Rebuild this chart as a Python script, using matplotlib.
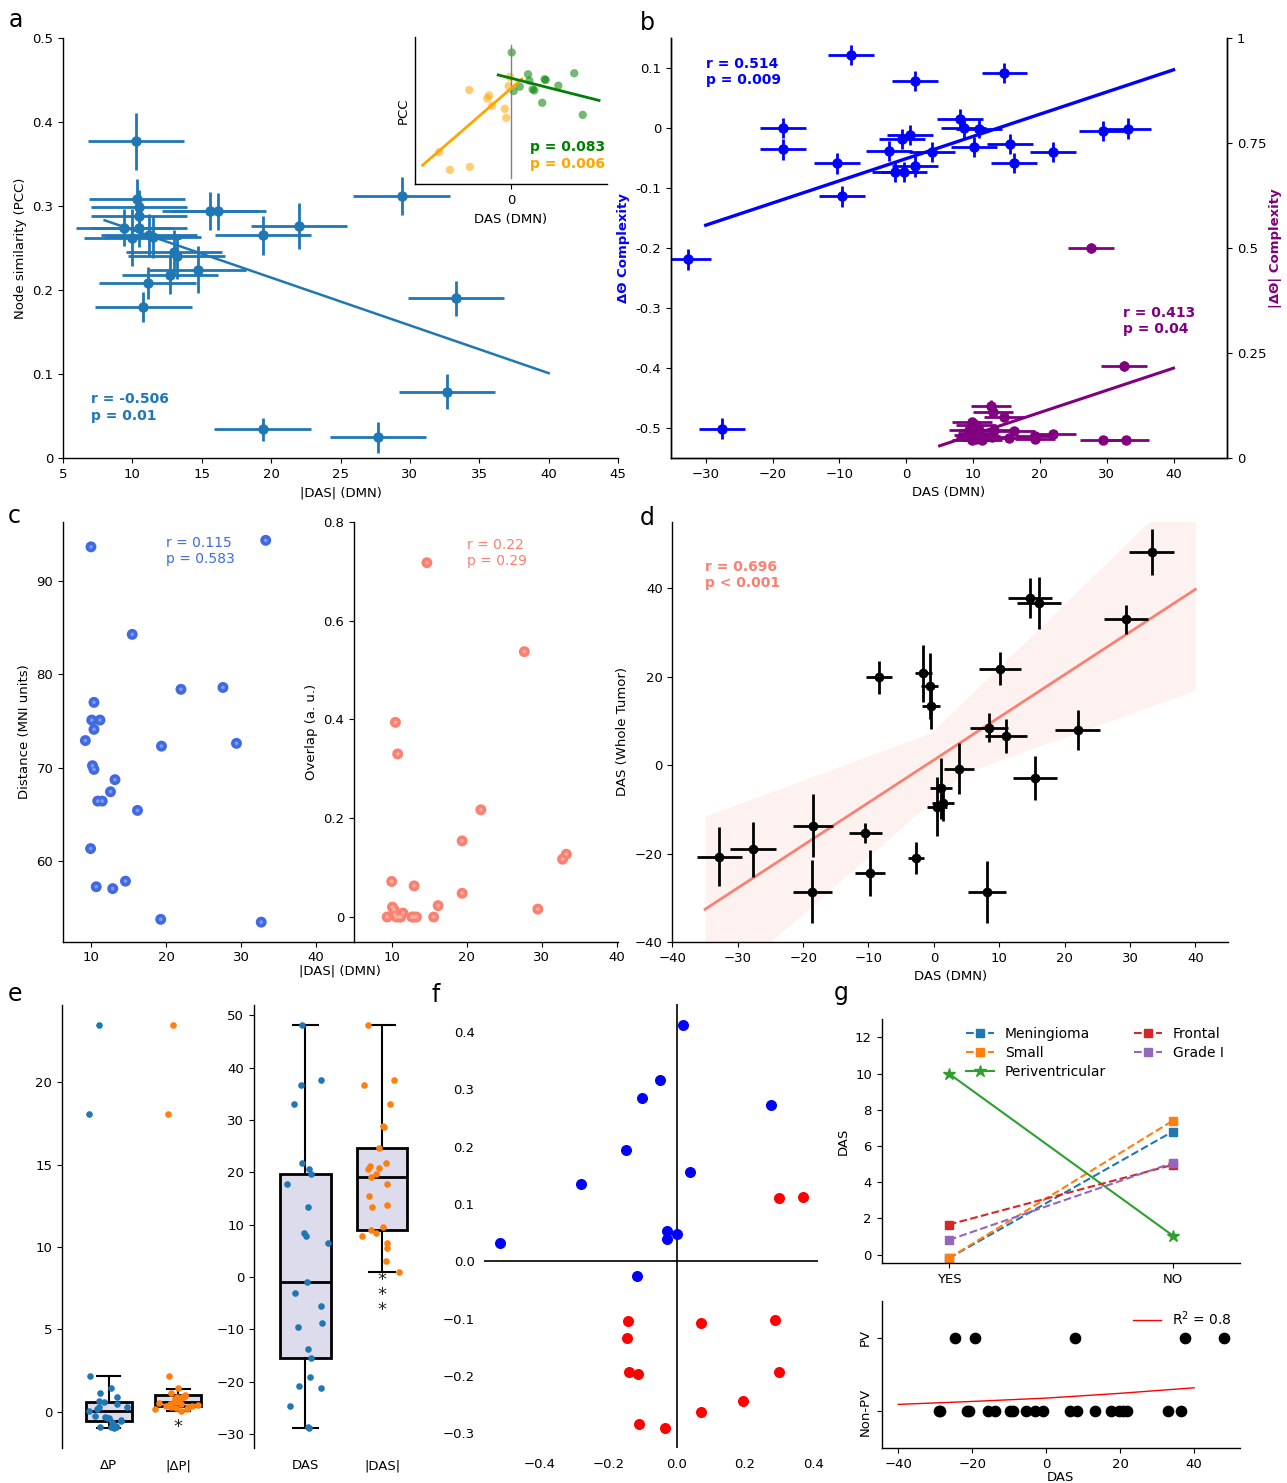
import numpy as np
import matplotlib
matplotlib.use('Agg')
import matplotlib.pyplot as plt
from matplotlib.ticker import FixedLocator

plt.rcParams['font.family'] = ['DejaVu Sans']
plt.rcParams['font.size'] = 9.5
plt.rcParams['axes.linewidth'] = 1.0

W, H = 1287, 1483


def box(l, r, t, b):
    return [l / W, 1 - b / H, (r - l) / W, (b - t) / H]


def clean(ax, right=False):
    ax.spines['top'].set_visible(False)
    if not right:
        ax.spines['right'].set_visible(False)

# ---------------- data: panel a ----------------
a_das = [10.25, 10.3, 10.5, 10.5, 9.43, 10.5, 10.0, 11.2, 11.5, 15.6, 16.2, 19.4,
         22.0, 29.4, 13.0, 13.2, 12.7, 14.7, 11.1, 10.8, 33.3, 32.7, 19.4, 27.7]
a_pcc = [0.377, 0.308, 0.299, 0.288, 0.274, 0.274, 0.262, 0.265, 0.263, 0.294, 0.294, 0.265,
         0.276, 0.312, 0.245, 0.240, 0.218, 0.224, 0.208, 0.180, 0.190, 0.079, 0.034, 0.0245]
a_xerr = [3.48, 3.46, 3.45, 3.45, 3.48, 3.45, 3.48, 3.48, 3.45, 3.47, 3.45, 3.45,
          3.48, 3.48, 3.48, 3.48, 3.48, 3.50, 3.48, 3.48, 3.45, 3.46, 3.50, 3.48]
a_yerr = [0.034, 0.024, 0.020, 0.015, 0.022, 0.023, 0.034, 0.025, 0.025, 0.023, 0.022, 0.023,
          0.027, 0.023, 0.026, 0.027, 0.023, 0.028, 0.019, 0.018, 0.021, 0.021, 0.014, 0.018]
a_fit_x = [8, 40]
a_fit_y = [0.283, 0.101]

inset_neg_das = [-0.4, -1.0, -19.1, -10.0, -10.8, -8.6, -2.8, -2.1, -32.9, -28.0, -18.8]
inset_neg_pcc = [0.300, 0.273, 0.261, 0.245, 0.236, 0.214, 0.205, 0.178, 0.076, 0.023, 0.032]
inset_pos_das = [0.4, 7.9, 8.5, 15.5, 16.0, 29.1, 21.8, 4.1, 1.3, 10.0, 10.8, 14.4, 33.0]
inset_pos_pcc = [0.373, 0.308, 0.289, 0.293, 0.291, 0.311, 0.274, 0.271, 0.258, 0.263, 0.260, 0.223, 0.187]
inset_neg_fit_x = [-40.5, 5.1]
inset_neg_fit_y = [0.037, 0.294]
inset_pos_fit_x = [-5.8, 40.5]
inset_pos_fit_y = [0.306, 0.230]

# ---------------- data: panel b ----------------
b_das = [-8.3, 1.25, 14.7, -18.4, -18.4, 8.1, 8.6, 10.9, 29.4, 33.25, 0.5, -0.6, -2.6,
         3.9, 10.1, 15.5, 21.9, 16.1, -10.4, 1.25, -1.7, -0.4, -9.6, -32.6, -27.6]
b_dtheta = [0.122, 0.078, 0.092, 0.0, -0.0355, 0.0155, 0.0, -0.001, -0.005, -0.001, -0.012,
            -0.018, -0.038, -0.040, -0.032, -0.027, -0.040, -0.058, -0.059, -0.064, -0.073,
            -0.073, -0.114, -0.219, -0.501]
b_xerr = [3.44, 3.44, 3.40, 3.44, 3.44, 3.44, 3.40, 3.44, 3.50, 3.44, 3.44, 3.44, 3.44,
          3.44, 3.44, 3.44, 3.44, 3.44, 3.44, 3.44, 3.44, 3.44, 3.44, 3.44, 3.44]
b_yerr = [0.017, 0.017, 0.017, 0.017, 0.017, 0.016, 0.016, 0.016, 0.017, 0.017, 0.017,
          0.017, 0.017, 0.017, 0.017, 0.017, 0.017, 0.017, 0.017, 0.017, 0.017, 0.017,
          0.017, 0.017, 0.017]
b_fit_x = [-30, 40]
b_fit_y = [-0.162, 0.097]

b_absdas = [27.7, 32.6, 12.7, 14.6, 9.9, 10.4, 9.4, 10.9, 13.2, 16.2, 19.3, 21.9, 19.3,
            15.4, 9.9, 11.4, 29.4, 32.9, 10.2, 10.5, 10.8, 11.1, 13.0, 10.4, 12.9]
b_abstheta = [0.500, 0.219, 0.124, 0.098, 0.086, 0.079, 0.067, 0.067, 0.067, 0.065, 0.052,
              0.057, 0.045, 0.047, 0.043, 0.043, 0.043, 0.043, 0.055, 0.050, 0.060, 0.052,
              0.110, 0.045, 0.050]
b_abs_xerr = [3.44, 3.44, 3.0, 3.0, 3.0, 3.0, 3.0, 3.0, 3.0, 3.0, 3.0, 3.44, 3.0,
              3.0, 3.0, 3.0, 3.44, 3.44, 3.0, 3.0, 3.0, 3.0, 3.0, 3.0, 3.0]
b_abs_yerr = [0.013, 0.013, 0.013, 0.010, 0.010, 0.010, 0.010, 0.010, 0.010, 0.010, 0.008,
              0.008, 0.008, 0.008, 0.008, 0.008, 0.008, 0.008, 0.008, 0.008, 0.008, 0.008,
              0.010, 0.008, 0.008]
b_pfit_x = [5, 40]
b_pfit_y = [0.029, 0.214]

# ---------------- data: panel c ----------------
c_das_dist = [10.0, 33.3, 15.5, 22.0, 27.6, 10.4, 10.1, 11.2, 10.4, 9.25, 19.4, 29.4, 10.2,
              10.4, 13.2, 12.6, 10.9, 11.5, 16.2, 9.95, 10.7, 12.9, 14.6, 19.3, 32.7]
c_distance = [93.7, 94.4, 84.3, 78.4, 78.6, 77.0, 75.1, 75.1, 74.1, 72.9, 72.3, 72.6, 70.2,
              69.8, 68.7, 67.4, 66.4, 66.4, 65.4, 61.3, 57.2, 57.0, 57.8, 53.7, 53.4]
c_das_ovl = [14.7, 27.7, 10.5, 10.8, 21.9, 19.4, 33.3, 32.8, 10.0, 13.0, 19.4, 16.2, 29.5,
             10.3, 11.5, 9.4, 10.6, 11.2, 12.7, 13.3, 15.6, 10.1, 11.0, 10.4, 12.9]
c_overlap = [0.717, 0.537, 0.394, 0.330, 0.217, 0.154, 0.127, 0.117, 0.072, 0.063, 0.048,
             0.023, 0.016, 0.015, 0.008, 0.0, 0.0, 0.0, 0.0, 0.0, 0.0, 0.02, 0.0, 0.005, 0.0]

# ---------------- data: panel d ----------------
d_das_dmn = [33.3, 14.7, 16.1, 29.4, 10.1, -8.35, -1.6, -0.6, -0.4, 8.5, 11.0, 22.0, 3.9,
             15.5, 1.1, 1.4, 0.45, -18.5, -10.5, -27.7, -32.8, -2.7, -9.7, -18.6, 8.1]
d_das_tumor = [48.1, 37.7, 36.6, 32.9, 21.8, 19.8, 20.7, 17.8, 13.4, 8.4, 6.5, 7.9, -0.8,
               -3.0, -5.3, -8.6, -9.4, -13.7, -15.4, -19.0, -20.7, -21.1, -24.4, -28.6, -28.7]
d_xerr = [3.4, 3.4, 3.4, 3.4, 3.2, 2.0, 1.3, 1.3, 1.4, 2.9, 3.2, 3.4, 2.3,
          3.4, 1.7, 1.7, 1.5, 3.0, 2.5, 3.5, 3.4, 1.2, 2.3, 3.0, 2.9]
d_yerr = [5.2, 4.5, 5.8, 3.3, 3.8, 3.8, 6.5, 7.5, 5.2, 3.3, 3.8, 4.5, 5.8,
          5.0, 7.0, 4.0, 6.6, 7.2, 2.3, 6.2, 6.6, 3.6, 5.2, 7.1, 7.0]
d_fit_x = [-35, 40]
d_fit_y = [-32.6, 39.7]
d_band_x = [-35, -25, -0.4, 4.5, 32.9, 40]
d_band_lo = [-52.9, -40.0, -8.3, -1.9, 13.1, 16.9]
d_band_hi = [-11.5, -6.1, 7.3, 14.3, 55.0, 65.2]

# ---------------- data: panel e ----------------
e_dp = [23.5, 18.06, 2.19, 1.46, 1.17, 0.87, 0.63, 0.57, 0.26, 0.30, 0.16, -0.24, -0.34,
        -0.36, -0.47, -0.55, -0.91, -0.91, -0.97, -0.91, -0.40, 0.05, -0.85, -0.60, 0.45]
e_dp_jit = [-0.14, -0.28, -0.27, 0.03, -0.12, 0.12, -0.14, -0.07, 0.27, -0.14, -0.17, -0.19,
            -0.05, 0.0, 0.18, 0.18, -0.13, 0.03, 0.07, 0.11, -0.02, -0.28, 0.10, 0.05, 0.12]
e_adp = [23.5, 18.06, 2.19, 1.46, 1.17, 1.0, 0.95, 0.91, 0.87, 0.80, 0.63, 0.57, 0.55, 0.47,
         0.40, 0.36, 0.34, 0.30, 0.26, 0.24, 0.16, 0.14, 0.06, 0.45, 0.91]
e_adp_jit = [-0.08, -0.15, -0.13, -0.01, -0.10, 0.10, 0.09, -0.02, 0.06, -0.05, 0.01, -0.06,
             -0.27, 0.04, 0.29, 0.20, -0.18, -0.10, 0.14, -0.03, 0.12, -0.33, 0.04, -0.12, 0.07]
e_das = [48.2, 37.7, 36.7, 33.0, 21.8, 20.7, 19.7, 17.7, 13.4, 8.35, 7.9, 6.5, -0.96,
         -3.1, -5.5, -8.8, -9.5, -13.7, -15.5, -19.1, -20.8, -21.2, -24.6, -28.6, -28.8]
e_das_jit = [-0.04, 0.20, -0.06, -0.15, -0.05, 0.05, 0.08, -0.24, 0.03, -0.02, 0.01, 0.29,
             0.02, -0.14, 0.20, 0.22, -0.10, 0.03, 0.07, 0.06, -0.08, 0.21, -0.20, 0.04, 0.05]
e_adas = [48.2, 37.7, 36.7, 33.0, 28.8, 28.7, 24.6, 21.8, 21.3, 20.7, 20.8, 19.7, 19.1, 17.7,
          15.5, 13.4, 13.7, 9.6, 8.9, 8.35, 7.9, 6.5, 5.5, 3.1, 0.9]
e_adas_jit = [-0.18, 0.16, -0.24, 0.11, 0.01, 0.03, -0.04, 0.05, -0.16, -0.18, -0.04, -0.08,
              -0.15, 0.07, -0.17, -0.13, 0.07, 0.01, -0.14, -0.08, -0.26, 0.07, 0.07, 0.05, 0.22]
e_box_left = [dict(label='ΔP', med=0.05, q1=-0.55, q3=0.61, whislo=-0.97, whishi=2.2),
              dict(label='|ΔP|', med=0.6, q1=0.36, q3=1.01, whislo=0.05, whishi=1.4)]
e_box_right = [dict(label='DAS', med=-0.96, q1=-15.5, q3=19.6, whislo=-28.8, whishi=48.2),
               dict(label='|DAS|', med=19.1, q1=8.9, q3=24.6, whislo=0.9, whishi=48.2)]

# ---------------- data: panel f ----------------
f_blue_x = [0.020, -0.050, -0.100, 0.277, -0.147, 0.038, -0.280, -0.027, 0.001, -0.028, -0.518, -0.115]
f_blue_y = [0.412, 0.316, 0.285, 0.273, 0.195, 0.155, 0.134, 0.053, 0.048, 0.038, 0.032, -0.025]
f_red_x = [0.300, 0.369, -0.142, 0.070, 0.289, -0.144, -0.140, -0.112, 0.299, 0.195, 0.070, -0.109, -0.033]
f_red_y = [0.111, 0.112, -0.105, -0.107, -0.103, -0.134, -0.194, -0.196, -0.193, -0.244, -0.263, -0.284, -0.291]

# ---------------- data: panel g ----------------
g_groups = ['YES', 'NO']
g_meningioma = [-0.2, 6.8]
g_small = [-0.2, 7.4]
g_periventricular = [10.0, 1.05]
g_frontal = [1.66, 4.96]
g_grade1 = [0.81, 5.07]
g_pv_das = [-24.7, -19.3, 7.8, 37.5, 48.1]
g_nonpv_das = [-28.9, -28.7, -21.5, -20.8, -15.7, -13.9, -9.8, -8.9, -5.5, -3.0, -1.0, 6.3,
               8.4, 13.3, 17.5, 19.8, 20.7, 21.8, 32.9, 36.5]
g_curve_x = [-40, -20, 0, 20, 40]
g_curve_y = [0.095, 0.135, 0.18, 0.245, 0.32]

BLUE_A = '#1f77b4'

fig = plt.figure(figsize=(W / 100, H / 100), dpi=100)

# ================= panel a =================
ax = fig.add_axes(box(63, 618, 38, 458))
ax.errorbar(a_das, a_pcc, xerr=a_xerr, yerr=a_yerr, fmt='o', color=BLUE_A, ms=6.5,
            elinewidth=2, capsize=0)
ax.plot(a_fit_x, a_fit_y, color=BLUE_A, lw=1.8)
ax.set_xlim(5, 45)
ax.set_ylim(0, 0.5)
ax.set_xticks([5, 10, 15, 20, 25, 30, 35, 40, 45])
ax.set_yticks([0, 0.1, 0.2, 0.3, 0.4, 0.5])
ax.set_yticklabels(['0', '0.1', '0.2', '0.3', '0.4', '0.5'])
ax.set_xlabel('|DAS| (DMN)')
ax.set_ylabel('Node similarity (PCC)')
ax.text(7.0, 0.078, 'r = -0.506\np = 0.01', color=BLUE_A, fontweight='bold', fontsize=10,
        va='top', ha='left')
clean(ax)

ai = fig.add_axes(box(415, 606.7, 36.7, 184.3))
ai.plot([0, 0], [0.0, 0.395], color='gray', lw=1)
ai.scatter(inset_neg_das, inset_neg_pcc, s=36, color='orange', alpha=0.55, edgecolors='none')
ai.scatter(inset_pos_das, inset_pos_pcc, s=36, color='green', alpha=0.55, edgecolors='none')
ai.plot(inset_neg_fit_x, inset_neg_fit_y, color='orange', lw=2)
ai.plot(inset_pos_fit_x, inset_pos_fit_y, color='green', lw=2)
ai.set_xlim(-44, 44)
ai.set_ylim(-0.02, 0.42)
ai.set_xticks([0])
ai.set_yticks([])
ai.set_xlabel('DAS (DMN)')
ai.set_ylabel('PCC')
ai.text(0.99, 0.25, 'p = 0.083', color='green', fontweight='bold', fontsize=10,
        transform=ai.transAxes, ha='right', va='center')
ai.text(0.99, 0.135, 'p = 0.006', color='orange', fontweight='bold', fontsize=10,
        transform=ai.transAxes, ha='right', va='center')
clean(ai)

# ================= panel b =================
bx = fig.add_axes(box(671, 1227, 38, 458))
bx.errorbar(b_das, b_dtheta, xerr=b_xerr, yerr=b_yerr, fmt='o', color='blue', ms=6.5,
            elinewidth=2, capsize=0)
bx.plot(b_fit_x, b_fit_y, color='blue', lw=2.4)
bx.set_xlim(-35.2, 48)
bx.set_ylim(-0.55, 0.15)
bx.set_xticks([-30, -20, -10, 0, 10, 20, 30, 40])
bx.set_yticks([0.1, 0, -0.1, -0.2, -0.3, -0.4, -0.5])
bx.set_yticklabels(['0.1', '0', '-0.1', '-0.2', '-0.3', '-0.4', '-0.5'])
bx.set_xlabel('DAS (DMN)')
bx.set_ylabel('ΔΘ Complexity', color='blue', fontweight='bold')
bx.text(-30, 0.118, 'r = 0.514\np = 0.009', color='blue', fontweight='bold', fontsize=10,
        va='top', ha='left')
bx.spines['top'].set_visible(False)
bx2 = bx.twinx()
bx2.errorbar(b_absdas, b_abstheta, xerr=b_abs_xerr, yerr=b_abs_yerr, fmt='o', color='purple',
             ms=6.5, elinewidth=2, capsize=0)
bx2.plot(b_pfit_x, b_pfit_y, color='purple', lw=2.2)
bx2.set_ylim(0, 1)
bx2.set_yticks([0, 0.25, 0.5, 0.75, 1])
bx2.set_yticklabels(['0', '0.25', '0.5', '0.75', '1'])
bx2.set_ylabel('|ΔΘ| Complexity', color='purple', fontweight='bold', labelpad=2)
bx2.text(32.5, 0.362, 'r = 0.413\np = 0.04', color='purple', fontweight='bold', fontsize=10,
         va='top', ha='left')
bx2.spines['top'].set_visible(False)

# ================= panel c =================
cl = fig.add_axes(box(63, 354, 521.7, 941.7))
cl.scatter(c_das_dist, c_distance, s=62, color='royalblue', edgecolors='none', zorder=3)
cl.scatter(c_das_dist, c_distance, s=7, color='#7d9bf0', edgecolors='none', zorder=4)
cl.set_xlim(6.27, 45.07)
cl.set_ylim(51.3, 96.4)
cl.set_xticks([10, 20, 30, 40])
cl.set_yticks([60, 70, 80, 90])
cl.set_ylabel('Distance (MNI units)')
cl.text(20.0, 94.9, 'r = 0.115\np = 0.583', color='royalblue', fontsize=10, va='top', ha='left')
clean(cl)

cr = fig.add_axes(box(354, 618, 521.7, 941.7))
cr.scatter(c_das_ovl, c_overlap, s=62, color='salmon', edgecolors='none', zorder=3)
cr.scatter(c_das_ovl, c_overlap, s=7, color='#fcae9f', edgecolors='none', zorder=4)
cr.set_xlim(4.97, 40.2)
cr.set_ylim(-0.05, 0.8)
cr.set_xticks([10, 20, 30, 40])
cr.set_yticks([0, 0.2, 0.4, 0.6, 0.8])
cr.set_yticklabels(['0', '0.2', '0.4', '0.6', '0.8'])
cr.set_ylabel('Overlap (a. u.)')
cr.text(20.0, 0.768, 'r = 0.22\np = 0.29', color='salmon', fontsize=10, va='top', ha='left')
clean(cr)
fig.text(340 / W, 1 - 971 / H, '|DAS| (DMN)', ha='center', va='center', fontsize=9.5)

# ================= panel d =================
dx = fig.add_axes(box(672.4, 1228, 521.7, 942))
dx.fill_between(d_band_x, d_band_lo, d_band_hi, color='salmon', alpha=0.1, lw=0)
dx.plot(d_fit_x, d_fit_y, color='salmon', lw=2)
dx.errorbar(d_das_dmn, d_das_tumor, xerr=d_xerr, yerr=d_yerr, fmt='o', color='black', ms=6,
            elinewidth=2, capsize=0)
dx.set_xlim(-40, 45)
dx.set_ylim(-40, 55)
dx.set_xticks([-40, -30, -20, -10, 0, 10, 20, 30, 40])
dx.set_yticks([-40, -20, 0, 20, 40])
dx.set_xlabel('DAS (DMN)')
dx.set_ylabel('DAS (Whole Tumor)')
dx.text(-35, 46.3, 'r = 0.696\np < 0.001', color='salmon', fontweight='bold', fontsize=10,
        va='top', ha='left')
clean(dx)

# ================= panel e =================
BOXFACE = '#dcdcec'
el = fig.add_axes(box(62, 220, 1005, 1448))
el.bxp(e_box_left, positions=[0, 1], widths=0.66, patch_artist=True, showfliers=False,
       boxprops=dict(facecolor=BOXFACE, edgecolor='black', lw=2),
       medianprops=dict(color='black', lw=2), whiskerprops=dict(color='black', lw=1.5),
       capprops=dict(color='black', lw=1.5), capwidths=0.33)
el.scatter(np.add(0, e_dp_jit), e_dp, s=14, color='#1f77b4', zorder=3)
el.scatter(np.add(1, e_adp_jit), e_adp, s=14, color='#ff7f0e', zorder=3)
el.text(1, -0.95, '*', ha='center', va='center', fontsize=13, color='#222222')
el.set_xlim(-0.67, 1.6)
el.set_ylim(-2.2, 24.7)
el.set_yticks([0, 5, 10, 15, 20])
el.set_xticks([0, 1])
el.set_xticklabels(['ΔP', '|ΔP|'])
el.tick_params(axis='x', length=0, pad=8)
for s in ['top', 'right', 'bottom']:
    el.spines[s].set_visible(False)

er = fig.add_axes(box(254, 428, 1005, 1448))
er.bxp(e_box_right, positions=[0, 1], widths=0.66, patch_artist=True, showfliers=False,
       boxprops=dict(facecolor=BOXFACE, edgecolor='black', lw=2),
       medianprops=dict(color='black', lw=2), whiskerprops=dict(color='black', lw=1.5),
       capprops=dict(color='black', lw=1.5), capwidths=0.33)
er.scatter(np.add(0, e_das_jit), e_das, s=14, color='#1f77b4', zorder=3)
er.scatter(np.add(1, e_adas_jit), e_adas, s=14, color='#ff7f0e', zorder=3)
for yy in [-0.6, -3.5, -6.4]:
    er.text(1, yy, '*', ha='center', va='center', fontsize=13, color='#222222')
er.set_xlim(-0.67, 1.6)
er.set_ylim(-32.7, 52)
er.set_yticks([-30, -20, -10, 0, 10, 20, 30, 40, 50])
er.set_xticks([0, 1])
er.set_xticklabels(['DAS', '|DAS|'])
er.tick_params(axis='x', length=0, pad=8)
for s in ['top', 'right', 'bottom']:
    er.spines[s].set_visible(False)

# ================= panel f =================
fx = fig.add_axes(box(484.3, 817.7, 1004, 1448))
fx.axhline(0, color='black', lw=1.2)
fx.axvline(0, color='black', lw=1.2)
fx.scatter(f_blue_x, f_blue_y, s=48, color='blue', zorder=3)
fx.scatter(f_red_x, f_red_y, s=48, color='red', zorder=3)
fx.set_xlim(-0.563, 0.413)
fx.set_ylim(-0.326, 0.449)
fx.set_xticks([-0.4, -0.2, 0.0, 0.2, 0.4])
fx.set_yticks([-0.3, -0.2, -0.1, 0.0, 0.1, 0.2, 0.3, 0.4])
fx.tick_params(length=0, pad=7)
for s in fx.spines.values():
    s.set_visible(False)

# ================= panel g =================
gt = fig.add_axes(box(881.7, 1240, 1019.3, 1263.3))
gx = [0, 1]
gt.plot(gx, g_meningioma, ls='--', marker='s', color='#1f77b4', ms=6, lw=1.5, label='Meningioma')
gt.plot(gx, g_small, ls='--', marker='s', color='#ff7f0e', ms=6, lw=1.5, label='Small')
gt.plot(gx, g_periventricular, ls='-', marker='*', color='#2ca02c', ms=9, lw=1.5,
        label='Periventricular')
gt.plot(gx, g_frontal, ls='--', marker='s', color='#d62728', ms=6, lw=1.5, label='Frontal')
gt.plot(gx, g_grade1, ls='--', marker='s', color='#9467bd', ms=6, lw=1.5, label='Grade I')
gt.set_xlim(-0.3, 1.3)
gt.set_ylim(-0.48, 13)
gt.set_xticks(gx)
gt.set_xticklabels(g_groups)
gt.set_yticks([0, 2, 4, 6, 8, 10, 12])
gt.set_ylabel('DAS')
gt.legend(ncol=2, loc='upper left', bbox_to_anchor=(0.22, 0.99), frameon=False,
          borderaxespad=0, fontsize=10, handlelength=2.0, columnspacing=2.0,
          labelspacing=0.35)
clean(gt)

gb = fig.add_axes(box(881.7, 1240, 1300.7, 1448.3))
gb.plot(g_curve_x, g_curve_y, color='red', lw=1, label='R$^2$ = 0.8')
gb.scatter(g_pv_das, [1] * len(g_pv_das), s=55, color='black', zorder=3)
gb.scatter(g_nonpv_das, [0] * len(g_nonpv_das), s=55, color='black', zorder=3)
gb.set_xlim(-44.5, 52.4)
gb.set_ylim(-0.5, 1.5)
gb.set_xticks([-40, -20, 0, 20, 40])
gb.set_yticks([0, 1])
gb.set_yticklabels(['Non-PV', 'PV'], rotation=90, va='center')
gb.set_xlabel('DAS', labelpad=0)
gb.legend(loc='upper right', frameon=False, fontsize=10, borderaxespad=0.2)
clean(gb)

# ================= panel letters =================
for lbl, px, py in [('a', 9, 27), ('b', 640, 30), ('c', 8, 523), ('d', 640, 525),
                    ('e', 8, 1001), ('f', 431, 1002), ('g', 834, 1000)]:
    fig.text(px / W, 1 - py / H, lbl, fontsize=17, ha='left', va='baseline')

fig.savefig('out.png', dpi=100)
